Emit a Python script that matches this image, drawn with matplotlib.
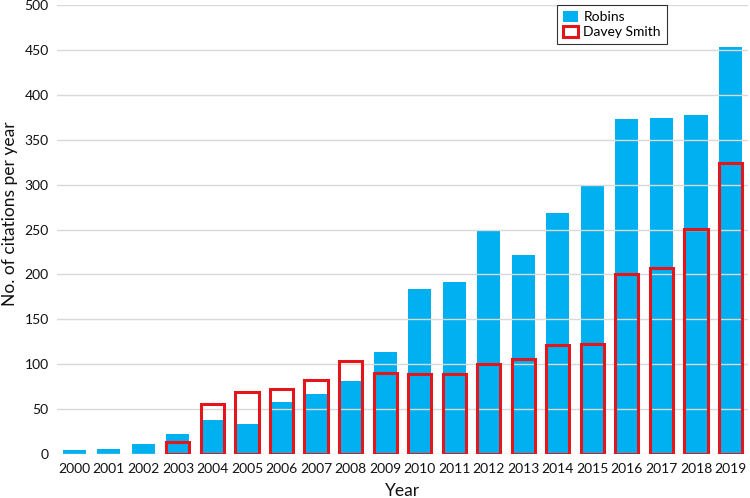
import numpy as np
import matplotlib.pyplot as plt

plt.rcParams['font.family'] = ['Lato', 'DejaVu Sans']

years = [str(y) for y in range(2000, 2020)]
robins = [5, 6, 11, 22, 38, 34, 58, 67, 81, 114, 184, 192, 250, 222, 268, 300, 373, 374, 378, 453]
davey_smith = [0, 0, 0, 14, 56, 69, 72, 83, 104, 90, 89, 89, 100, 106, 121, 123, 200, 207, 251, 324]

blue = '#00B0F0'
red = '#E3161B'

fig = plt.figure(figsize=(7.5, 4.98), dpi=100)
ax = fig.add_axes([0.076, 0.088, 0.921, 0.902])

x = np.arange(len(years))
width = 0.67
ax.bar(x, robins, width, color=blue, zorder=1, label='Robins')
ds = np.array(davey_smith, dtype=float)
mask = ds > 0
ax.bar(x[mask], ds[mask], width, facecolor='none', edgecolor=red,
       linewidth=2.2, zorder=3, label='Davey Smith')

ax.set_xlim(-0.5, len(years) - 0.5)
ax.set_ylim(0, 500)
ax.set_yticks(range(0, 501, 50))
ax.set_xticks(x)
ax.set_xticklabels(years)
ax.yaxis.grid(True, color='#d9d9d9', linewidth=1.0)
ax.set_axisbelow(False)
for gl in ax.get_ygridlines():
    gl.set_zorder(2)
for s in ax.spines.values():
    s.set_visible(False)
ax.tick_params(length=0, labelsize=10, colors='#111111', pad=6)

ax.set_xlabel('Year', fontsize=12.5, color='#111111', labelpad=6)
ax.set_ylabel('No. of citations per year', fontsize=12.5, color='#111111')
ax.yaxis.set_label_coords(-0.056, 0.535)

leg = ax.legend(loc='upper left', bbox_to_anchor=(0.724, 1.0), frameon=True,
                fancybox=False, edgecolor='black', fontsize=10,
                handlelength=1.1, handleheight=0.9, borderpad=0.4,
                labelspacing=0.2, handletextpad=0.4, borderaxespad=0.0)
leg.get_frame().set_linewidth(0.8)

fig.savefig('out.png', dpi=100)
